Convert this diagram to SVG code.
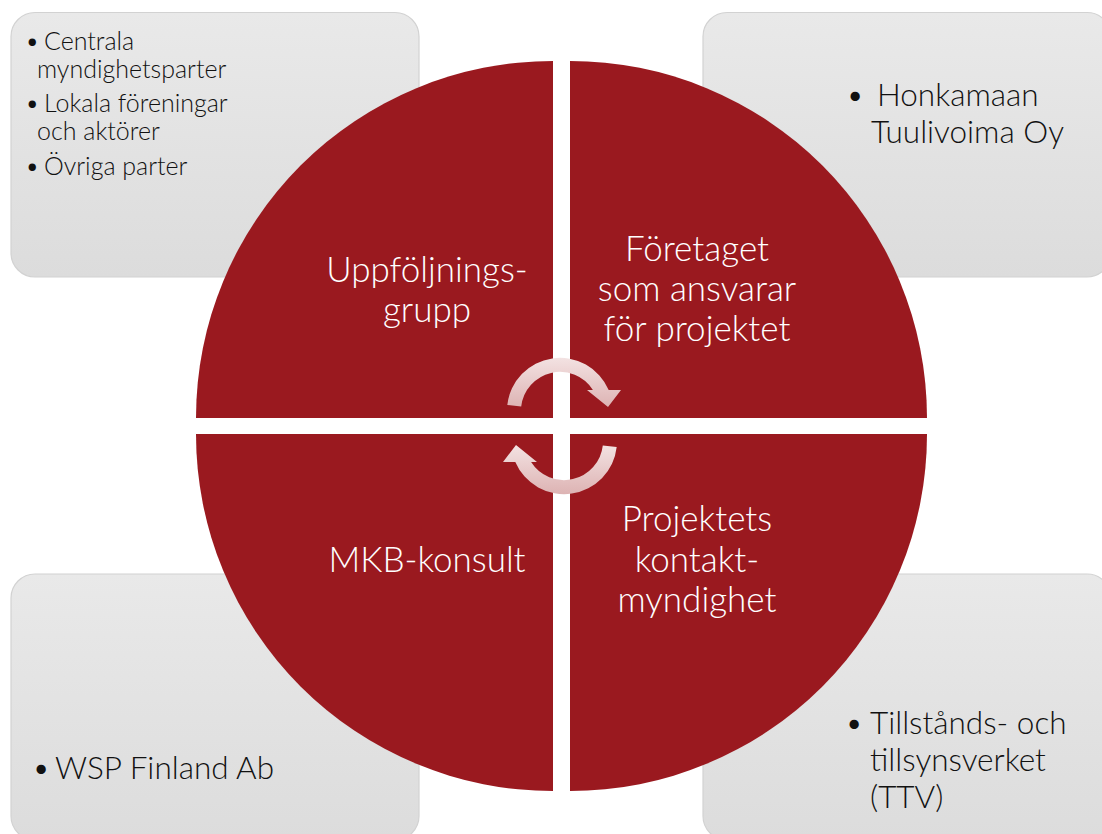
<svg xmlns="http://www.w3.org/2000/svg" width="1102" height="834" viewBox="0 0 1102 834">
<defs>
<linearGradient id="boxg" x1="0" y1="0" x2="0" y2="1">
<stop offset="0" stop-color="#E9E9E9"/>
<stop offset="1" stop-color="#DCDCDC"/>
</linearGradient>
<linearGradient id="arrT" x1="0" y1="0" x2="0" y2="1">
<stop offset="0" stop-color="#F3E2E2"/>
<stop offset="1" stop-color="#DDB3B3"/>
</linearGradient>
<linearGradient id="arrB" x1="0" y1="1" x2="0" y2="0">
<stop offset="0" stop-color="#F3E2E2"/>
<stop offset="1" stop-color="#DDB3B3"/>
</linearGradient>
<style>
.box{fill:url(#boxg);stroke:#D2D2D2;stroke-width:1.2}
.q{fill:#9A191F}
.qt{font-family:Lato,"Open Sans",sans-serif;font-weight:300;font-size:35px;fill:#FFFFFF;text-anchor:middle}
.bt{font-family:Lato,"Open Sans",sans-serif;font-weight:300;fill:#111111}
.s21{font-size:25px}
.s28{font-size:31.5px}
</style>
</defs>
<g id="box-tl">
<rect class="box" x="11" y="12.5" width="408" height="264.5" rx="24"/>
<text class="bt s21"><tspan x="25" y="50">•</tspan><tspan x="44" y="50">Centrala</tspan><tspan x="37" y="78">myndighetsparter</tspan><tspan x="25" y="112">•</tspan><tspan x="44" y="112">Lokala föreningar</tspan><tspan x="37" y="140">och aktörer</tspan><tspan x="25" y="175">•</tspan><tspan x="44" y="175">Övriga parter</tspan></text>
</g>
<g id="box-tr">
<rect class="box" x="703" y="12.5" width="408" height="264.5" rx="24"/>
<text class="bt s28"><tspan x="846" y="106">•</tspan><tspan x="877" y="106">Honkamaan</tspan><tspan x="871" y="143">Tuulivoima Oy</tspan></text>
</g>
<g id="box-bl">
<rect class="box" x="11" y="574" width="408" height="266" rx="24"/>
<text class="bt s28"><tspan x="32" y="779">•</tspan><tspan x="55" y="779">WSP Finland Ab</tspan></text>
</g>
<g id="box-br">
<rect class="box" x="703" y="574" width="408" height="266" rx="24"/>
<text class="bt s28"><tspan x="845" y="734">•</tspan><tspan x="870" y="734">Tillstånds- och</tspan><tspan x="870" y="771">tillsynsverket</tspan><tspan x="870" y="808">(TTV)</tspan></text>
</g>
<g id="q-uppfoljningsgrupp">
<path class="q" d="M553,418 L196,418 A357,357 0 0 1 553,61 Z"/>
<text class="qt"><tspan x="427" y="282">Uppföljnings-</tspan><tspan x="427" y="322">grupp</tspan></text>
</g>
<g id="q-foretaget">
<path class="q" d="M570,418 L570,61 A357,357 0 0 1 927,418 Z"/>
<text class="qt"><tspan x="697" y="261">Företaget</tspan><tspan x="697" y="301">som ansvarar</tspan><tspan x="697" y="341">för projektet</tspan></text>
</g>
<g id="q-kontaktmyndighet">
<path class="q" d="M570,434 L927,434 A357,357 0 0 1 570,791 Z"/>
<text class="qt"><tspan x="697" y="531">Projektets</tspan><tspan x="697" y="572">kontakt-</tspan><tspan x="697" y="612">myndighet</tspan></text>
</g>
<g id="q-mkb">
<path class="q" d="M553,434 L553,791 A357,357 0 0 1 196,434 Z"/>
<text class="qt"><tspan x="427" y="572">MKB-konsult</tspan></text>
</g>
<g id="connectors">
<path fill="url(#arrT)" d="M507.3,405 A53,53 0 0 1 608.7,390 L621,390 L608,407 L587,390 L592.9,390 A39,39 0 0 0 521.2,406.6 Z"/>
<g transform="rotate(180 562 426)">
<path fill="url(#arrB)" d="M507.3,405 A53,53 0 0 1 608.7,390 L621,390 L608,407 L587,390 L592.9,390 A39,39 0 0 0 521.2,406.6 Z"/>
</g>
</g>
</svg>
